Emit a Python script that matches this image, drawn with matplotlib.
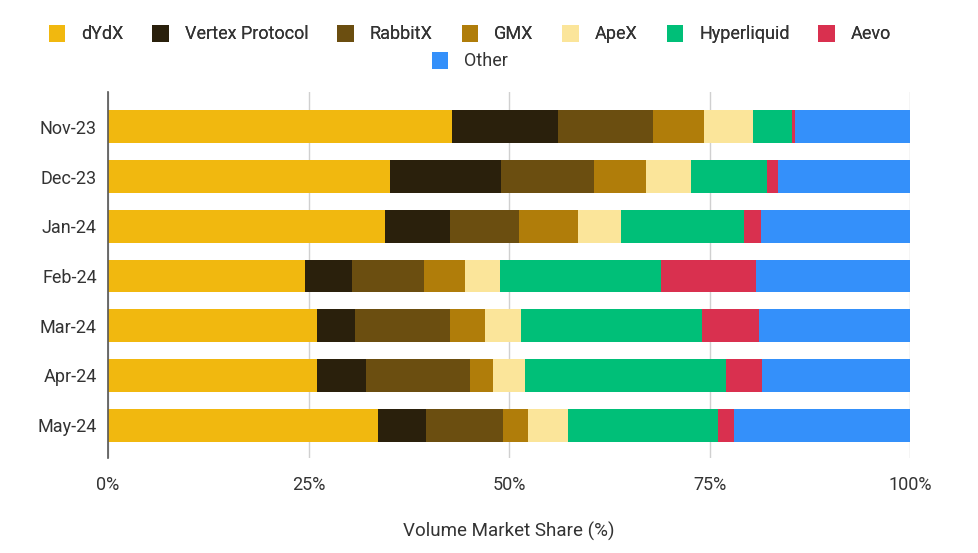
import numpy as np
import matplotlib.pyplot as plt
from matplotlib.patches import Patch

plt.rcParams['font.family'] = ['Roboto', 'DejaVu Sans']

months = ['Nov-23', 'Dec-23', 'Jan-24', 'Feb-24', 'Mar-24', 'Apr-24', 'May-24']
dydx = [42.9, 35.2, 34.5, 24.6, 26.0, 26.1, 33.7]
vertex = [13.2, 13.8, 8.1, 5.8, 4.8, 6.1, 6.0]
rabbitx = [11.9, 11.6, 8.7, 9.0, 11.8, 12.9, 9.5]
gmx = [6.3, 6.5, 7.3, 5.1, 4.4, 2.9, 3.2]
apex = [6.1, 5.6, 5.4, 4.4, 4.5, 4.0, 5.0]
hyperliquid = [4.9, 9.5, 15.3, 20.0, 22.6, 25.0, 18.7]
aevo = [0.4, 1.3, 2.1, 11.9, 7.1, 4.6, 2.0]
other = [14.3, 16.5, 18.6, 19.2, 18.8, 18.4, 21.9]

names = ['dYdX', 'Vertex Protocol', 'RabbitX', 'GMX', 'ApeX', 'Hyperliquid', 'Aevo', 'Other']
series = [dydx, vertex, rabbitx, gmx, apex, hyperliquid, aevo, other]
colors = ['#F1B80F', '#2A200C', '#6B4E10', '#B07D0A', '#FBE59A', '#00BF78', '#D9304F', '#3490FA']

fig = plt.figure(figsize=(9.79, 5.53), dpi=100)
ax = fig.add_axes([108 / 979, 1 - 458 / 553, 802 / 979, 366 / 553])

y = np.arange(len(months))
left = np.zeros(len(months))
for vals, c in zip(series, colors):
    vals = np.array(vals)
    ax.barh(y, vals, left=left, height=0.66, color=c, linewidth=0, zorder=3)
    left += vals

ax.set_xlim(0, 100)
ax.set_ylim(6.66, -0.7)
ax.set_xticks([0, 25, 50, 75, 100])
ax.set_xticklabels(['0%', '25%', '50%', '75%', '100%'], fontsize=13, color='#333333')
ax.set_yticks(y)
ax.set_yticklabels(months, fontsize=13, color='#333333')
ax.tick_params(axis='both', length=0, pad=8)
ax.tick_params(axis='x', pad=13)
ax.grid(axis='x', color='#d0d0d0', linewidth=1, zorder=0)
for s in ['top', 'right', 'bottom']:
    ax.spines[s].set_visible(False)
ax.spines['left'].set_color('#555555')
ax.spines['left'].set_linewidth(1.2)
ax.spines['left'].set_zorder(4)
ax.set_xlabel('Volume Market Share (%)', fontsize=13.5, color='#333333', labelpad=20)

handles = [Patch(facecolor=c, edgecolor='none') for c in colors]
leg1 = fig.legend(handles[:7], names[:7], loc='center', bbox_to_anchor=(0.48, 1 - 34 / 553),
                  ncol=7, frameon=False, fontsize=13, handlelength=0.9, handleheight=1.1,
                  columnspacing=1.6, handletextpad=0.9, labelcolor='#333333')
fig.legend(handles[7:], names[7:], loc='center', bbox_to_anchor=(0.48, 1 - 61 / 553),
           ncol=1, frameon=False, fontsize=13, handlelength=0.9, handleheight=1.1,
           handletextpad=0.9, labelcolor='#333333')
fig.add_artist(leg1)

fig.savefig('out.png', dpi=100, facecolor='white')
